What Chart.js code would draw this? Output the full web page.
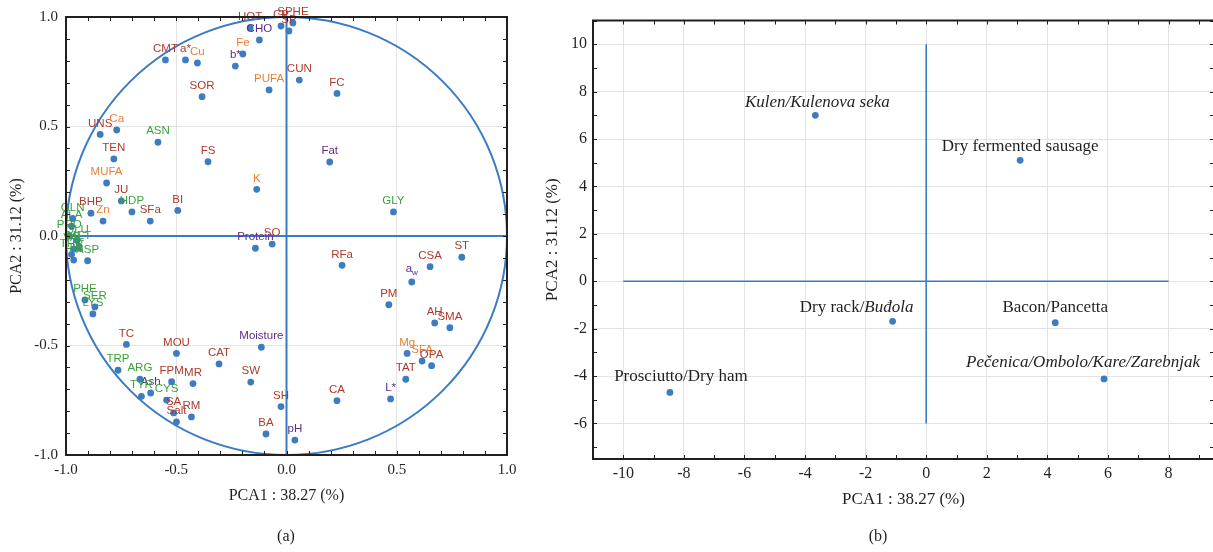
<!DOCTYPE html>
<html><head><meta charset="utf-8">
<script src="https://cdn.jsdelivr.net/npm/chart.js@4.4.1/dist/chart.umd.min.js"></script>
<style>
html,body{margin:0;padding:0;background:#fff;overflow:hidden;width:1213px;height:552px;}
#ca{position:absolute;left:0;top:0;}
#cb{position:absolute;left:540px;top:0;}
.cap{position:absolute;top:527px;font-family:"Liberation Serif",serif;font-size:16px;color:#231f20;transform:translateX(-50%);}
</style></head><body>
<canvas id="ca" width="530" height="552"></canvas>
<canvas id="cb" width="680" height="552"></canvas>
<div class="cap" style="left:286px">(a)</div>
<div class="cap" style="left:878px">(b)</div>
<script>
// ---------------- DATA: panel (a) loadings ----------------
const variableNames = ["HOT","CP","SPHE","SP","CHO","Fe","b*","CMT","a*","Cu","SOR","PUFA","CUN","FC",
  "UNS","Ca","ASN","TEN","FS","Fat","MUFA","K","JU","HDP","BHP","Zn","SFa","BI","GLY",
  "GLN","ALA","PRO","GLU","MET","VAL","THR","HIS","ASP",
  "Protein","SO","RFa","ST","CSA","aw","PM","AH","SMA","Mg","SFA","OPA","TAT","L*","CA",
  "PHE","SER","LYS","TC","MOU","Moisture","CAT","TRP","ARG","FPM","MR","SW","Ash","TYR","CYS",
  "SA","Salt","RM","SH","BA","pH"];
const pc1Loadings = [-0.165,-0.025,0.029,0.011,-0.123,-0.198,-0.232,-0.549,-0.458,-0.404,-0.383,-0.079,0.058,0.229,
  -0.845,-0.770,-0.583,-0.783,-0.356,0.196,-0.816,-0.135,-0.749,-0.701,-0.887,-0.832,-0.618,-0.493,0.485,
  -0.970,-0.975,-0.985,-0.950,-0.940,-0.965,-0.975,-0.965,-0.902,
  -0.141,-0.065,0.252,0.795,0.651,0.568,0.464,0.672,0.741,0.547,0.615,0.658,0.541,0.472,0.229,
  -0.914,-0.869,-0.878,-0.726,-0.499,-0.114,-0.306,-0.764,-0.665,-0.521,-0.424,-0.162,-0.616,-0.658,-0.544,
  -0.512,-0.499,-0.431,-0.025,-0.093,0.038];
const pc2Loadings = [0.950,0.959,0.973,0.936,0.895,0.831,0.776,0.804,0.804,0.790,0.636,0.667,0.712,0.651,
  0.464,0.484,0.428,0.352,0.339,0.338,0.242,0.213,0.160,0.110,0.104,0.068,0.068,0.117,0.110,
  0.080,0.045,0.000,-0.020,-0.050,-0.060,-0.085,-0.110,-0.113,
  -0.056,-0.037,-0.134,-0.097,-0.140,-0.210,-0.314,-0.397,-0.419,-0.536,-0.571,-0.592,-0.654,-0.744,-0.752,
  -0.292,-0.324,-0.356,-0.495,-0.536,-0.508,-0.584,-0.613,-0.654,-0.665,-0.674,-0.667,-0.717,-0.732,-0.749,
  -0.808,-0.849,-0.826,-0.779,-0.904,-0.932];
// group of each variable: S = sensory, M = mineral/fatty acid, A = amino acid, C = chemical/physical
const variableGroups = ["S","S","S","S","C","M","C","S","S","M","S","M","S","S",
  "S","M","A","S","S","C","M","M","S","A","S","M","S","S","A",
  "A","A","A","A","A","A","A","A","A",
  "C","S","S","S","S","C","S","S","S","M","M","S","S","C","S",
  "A","A","A","S","S","C","S","A","A","S","S","S","C","A","A",
  "S","S","S","S","S","C"];
const loadingTicks = [-1, -0.5, 0, 0.5, 1];

// ---------------- DATA: panel (b) scores ----------------
const productNames = ["Kulen/Kulenova seka","Dry fermented sausage","Dry rack/Buđola","Bacon/Pancetta",
  "Pečenica/Ombolo/Kare/Zarebnjak","Prosciutto/Dry ham"];
const productPC1 = [-3.66, 3.10, -1.11, 4.26, 5.87, -8.46];
const productPC2 = [7.00, 5.10, -1.69, -1.75, -4.12, -4.69];
const scoreTicksX = [-10,-8,-6,-4,-2,0,2,4,6,8];
const scoreTicksY = [-6,-4,-2,0,2,4,6,8,10];
const refLineX = [-10, 8];   // horizontal reference line extent (PCA1)
const refLineY = [-6, 10];   // vertical reference line extent (PCA2)

const axisTitleX = "PCA1 : 38.27 (%)";
const axisTitleY = "PCA2 : 31.12 (%)";

// ---------------- STYLE ----------------
const groupColors = {S:"#ad3a2c", M:"#e8813a", A:"#3aa23c", C:"#5a2d86"};
const dotColor = "#3d7cc0";
const lineBlue = "#3a7bc6";
const ink = "#231f20";
const serif = "'Liberation Serif', 'Times New Roman', serif";
const sans = "'Liberation Sans', Arial, sans-serif";
const subscriptLabels = {aw:["a","w"]};
const italicStart = {"Kulen/Kulenova seka":0, "Pečenica/Ombolo/Kare/Zarebnjak":0, "Dry rack/Buđola":9};
const productLabelNudge = {"Dry rack/Buđola":[-36,-14], "Pečenica/Ombolo/Kare/Zarebnjak":[-21,-16],
  "Prosciutto/Dry ham":[11,-16], "Kulen/Kulenova seka":[2,-13], "Bacon/Pancetta":[0,-15], "Dry fermented sausage":[0,-14]};

// ---------------- PLUGINS ----------------
const frameTicks = {
  id:'frameTicks',
  afterDraw(chart, args, opts){
    const {ctx, chartArea:a, scales:{x,y}} = chart;
    ctx.save();
    ctx.strokeStyle = ink; ctx.lineWidth = 1;
    ctx.beginPath();
    const L = opts.len || 4, s = opts.step;
    for (let i=Math.ceil(x.min/s-1e-6); i<=Math.floor(x.max/s+1e-6); i++){
      const px = Math.round(x.getPixelForValue(i*s))+0.5;
      ctx.moveTo(px,a.top); ctx.lineTo(px,a.top+L);
      ctx.moveTo(px,a.bottom); ctx.lineTo(px,a.bottom-L);
    }
    for (let i=Math.ceil(y.min/s-1e-6); i<=Math.floor(y.max/s+1e-6); i++){
      const py = Math.round(y.getPixelForValue(i*s))+0.5;
      ctx.moveTo(a.left,py); ctx.lineTo(a.left+L,py);
      ctx.moveTo(a.right,py); ctx.lineTo(a.right-L,py);
    }
    ctx.stroke();
    ctx.lineWidth = 2;
    ctx.strokeRect(a.left, a.top, a.right-a.left, a.bottom-a.top);
    ctx.restore();
  }
};

const loadingDecor = {
  id:'loadingDecor',
  beforeDatasetsDraw(chart){
    const {ctx, chartArea:a, scales:{x,y}} = chart;
    const cx = x.getPixelForValue(0), cy = y.getPixelForValue(0);
    ctx.save();
    ctx.strokeStyle = lineBlue; ctx.lineWidth = 2;
    ctx.beginPath();
    ctx.ellipse(cx, cy, x.getPixelForValue(1)-cx, cy-y.getPixelForValue(1), 0, 0, Math.PI*2);
    ctx.stroke();
    ctx.beginPath();
    ctx.moveTo(x.getPixelForValue(-1), cy); ctx.lineTo(x.getPixelForValue(1), cy);
    ctx.moveTo(cx, y.getPixelForValue(1)); ctx.lineTo(cx, y.getPixelForValue(-1));
    ctx.stroke();
    ctx.restore();
  },
  afterDatasetsDraw(chart){
    const {ctx} = chart;
    const meta = chart.getDatasetMeta(0);
    ctx.save();
    ctx.textBaseline = 'middle';
    meta.data.forEach((pt, i) => {
      const name = variableNames[i];
      ctx.fillStyle = groupColors[variableGroups[i]];
      const tx = pt.x, ty = pt.y - 11;
      if (subscriptLabels[name]) {
        const [m, sub] = subscriptLabels[name];
        ctx.font = "11.5px " + sans;
        const w1 = ctx.measureText(m).width;
        ctx.font = "8px " + sans;
        const w2 = ctx.measureText(sub).width;
        const x0 = tx - (w1+w2)/2;
        ctx.textAlign = 'left';
        ctx.font = "11.5px " + sans; ctx.fillText(m, x0, ty-2);
        ctx.font = "8px " + sans; ctx.fillText(sub, x0+w1, ty+2);
      } else {
        ctx.font = "11.5px " + sans;
        ctx.textAlign = 'center';
        ctx.fillText(name, tx, ty);
      }
    });
    ctx.restore();
  }
};

const scoreDecor = {
  id:'scoreDecor',
  beforeDatasetsDraw(chart){
    const {ctx, scales:{x,y}} = chart;
    ctx.save();
    ctx.strokeStyle = lineBlue; ctx.lineWidth = 1.6;
    ctx.beginPath();
    const y0 = y.getPixelForValue(0), x0 = x.getPixelForValue(0);
    ctx.moveTo(x.getPixelForValue(refLineX[0]), y0); ctx.lineTo(x.getPixelForValue(refLineX[1]), y0);
    ctx.moveTo(x0, y.getPixelForValue(refLineY[0])); ctx.lineTo(x0, y.getPixelForValue(refLineY[1]));
    ctx.stroke();
    ctx.restore();
  },
  afterDatasetsDraw(chart){
    const {ctx} = chart;
    const meta = chart.getDatasetMeta(0);
    ctx.save();
    ctx.fillStyle = ink; ctx.textBaseline = 'middle'; ctx.textAlign = 'left';
    meta.data.forEach((pt, i) => {
      const name = productNames[i];
      const st = italicStart[name];
      const parts = st === undefined ? [[name,false]] : (st === 0 ? [[name,true]] : [[name.slice(0,st),false],[name.slice(st),true]]);
      const fontOf = it => (it ? "italic " : "") + "17px " + serif;
      let total = 0;
      parts.forEach(([t,it]) => { ctx.font = fontOf(it); total += ctx.measureText(t).width; });
      const nd = productLabelNudge[name] || [0,-14];
      let cx = pt.x + nd[0] - total/2;
      const cy = pt.y + nd[1];
      parts.forEach(([t,it]) => { ctx.font = fontOf(it); ctx.fillText(t, cx, cy); cx += ctx.measureText(t).width; });
    });
    ctx.restore();
  }
};

// ---------------- CHART (a) ----------------
const tickFontA = {family:serif, size:15};
const titleFontA = {family:serif, size:16};
new Chart(document.getElementById('ca'), {
  type:'scatter',
  data:{datasets:[{
    data: variableNames.map((n,i)=>({x:pc1Loadings[i], y:pc2Loadings[i]})),
    backgroundColor: dotColor, borderWidth:0, pointRadius:3.4, pointHoverRadius:3.4
  }]},
  options:{
    responsive:false, animation:false, events:[],
    layout:{padding:{left:0,right:23,top:17,bottom:46.4}},
    plugins:{legend:{display:false}, tooltip:{enabled:false}, frameTicks:{step:0.1, len:4}},
    scales:{
      x:{type:'linear', min:-1, max:1,
        afterBuildTicks: s => { s.ticks = loadingTicks.map(v=>({value:v})); },
        afterFit: s => { s.height = 50.6; },
        border:{display:false},
        grid:{drawTicks:false, lineWidth:1, color: c => (c.tick && Math.abs(c.tick.value)===0.5) ? '#e3e3e3' : 'rgba(0,0,0,0)'},
        ticks:{padding:6, font:tickFontA, color:ink, maxRotation:0, autoSkip:false, callback: v => Number(v).toFixed(1)},
        title:{display:true, text:axisTitleX, font:titleFontA, color:ink, padding:{top:0,bottom:0}}
      },
      y:{type:'linear', min:-1, max:1,
        afterBuildTicks: s => { s.ticks = loadingTicks.map(v=>({value:v})); },
        afterFit: s => { s.width = 66; },
        border:{display:false},
        grid:{drawTicks:false, lineWidth:1, color: c => (c.tick && Math.abs(c.tick.value)===0.5) ? '#e3e3e3' : 'rgba(0,0,0,0)'},
        ticks:{padding:8, font:tickFontA, color:ink, autoSkip:false, callback: v => Number(v).toFixed(1)},
        title:{display:true, text:axisTitleY, font:titleFontA, color:ink, padding:{top:7.4,bottom:0}}
      }
    }
  },
  plugins:[loadingDecor, frameTicks]
});

// ---------------- CHART (b) ----------------
const tickFontB = {family:serif, size:16};
const titleFontB = {family:serif, size:17};
new Chart(document.getElementById('cb'), {
  type:'scatter',
  data:{datasets:[{
    data: productNames.map((n,i)=>({x:productPC1[i], y:productPC2[i]})),
    backgroundColor: dotColor, borderWidth:0, pointRadius:3.4, pointHoverRadius:3.4
  }]},
  options:{
    responsive:false, animation:false, events:[],
    layout:{padding:{left:0,right:6,top:20.5,bottom:41.8}},
    plugins:{legend:{display:false}, tooltip:{enabled:false}, frameTicks:{step:1, len:4}},
    scales:{
      x:{type:'linear', min:-11, max:9.5,
        afterBuildTicks: s => { s.ticks = scoreTicksX.map(v=>({value:v})); },
        afterFit: s => { s.height = 51.2; },
        border:{display:false},
        grid:{drawTicks:false, lineWidth:1, color:'#e3e3e3'},
        ticks:{padding:5, font:tickFontB, color:ink, maxRotation:0, autoSkip:false},
        title:{display:true, text:axisTitleX, font:titleFontB, color:ink, padding:{top:0,bottom:0}}
      },
      y:{type:'linear', min:-7.5, max:11,
        afterBuildTicks: s => { s.ticks = scoreTicksY.map(v=>({value:v})); },
        afterFit: s => { s.width = 53; },
        border:{display:false},
        grid:{drawTicks:false, lineWidth:1, color:'#e3e3e3'},
        ticks:{padding:6, font:tickFontB, color:ink, autoSkip:false},
        title:{display:true, text:axisTitleY, font:titleFontB, color:ink, padding:{top:2.8,bottom:0}}
      }
    }
  },
  plugins:[scoreDecor, frameTicks]
});
</script>
</body></html>
